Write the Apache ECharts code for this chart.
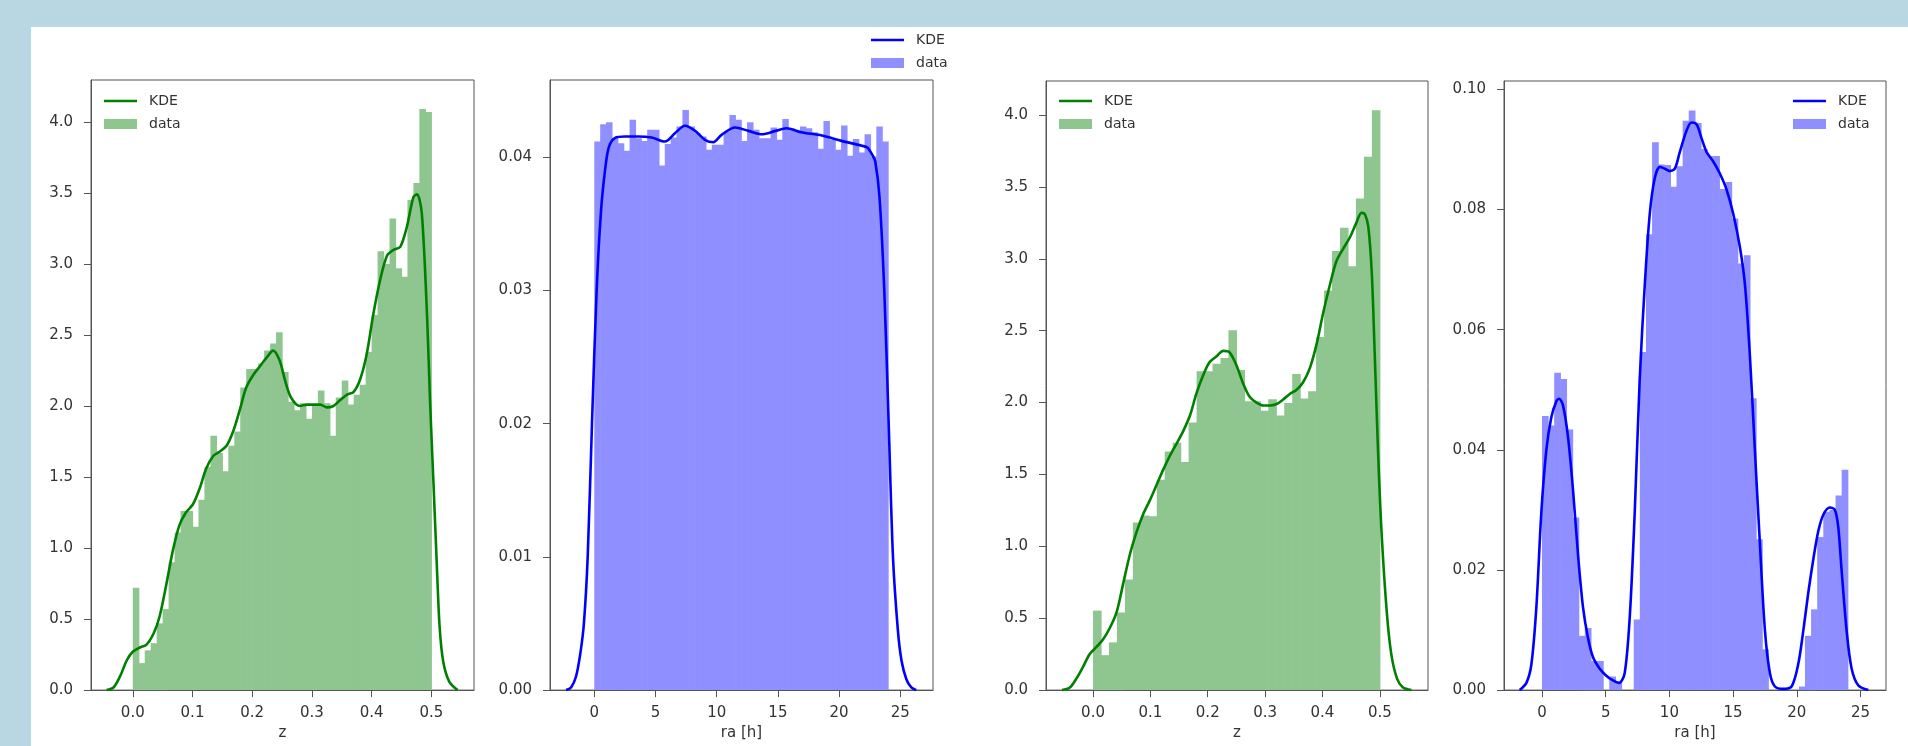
<!DOCTYPE html>
<html>
<head>
<meta charset="utf-8">
<title>z / ra distributions</title>
<script src="https://cdn.jsdelivr.net/npm/echarts@6/dist/echarts.min.js"></script>
<style>
    html, body { margin: 0; padding: 0; }
    #wrap { position: relative; width: 1908px; height: 746px; background: #b9d7e3; overflow: hidden; }
    #paper { position: absolute; left: 31px; top: 27px; right: 0; bottom: 0; background: #fff; }
    #chart { position: absolute; left: 0; top: 0; width: 1908px; height: 746px; }
</style>
</head>
<body>
<div id="wrap">
    <div id="paper"></div>
    <div id="chart"></div>
</div>
<script>
    // histogram ranges (first / last bin edge)
    var zRange = [0, 0.5];
    var raRange = [0, 24];

    // panel 1: z, 50 bins (density)
    var zHist1 = [0.72, 0.19, 0.28, 0.33, 0.47, 0.57, 0.90, 1.11, 1.26, 1.26,
                  1.15, 1.34, 1.57, 1.79, 1.67, 1.54, 1.72, 1.82, 2.13, 2.26,
                  2.26, 2.30, 2.39, 2.44, 2.52, 2.24, 2.03, 1.97, 2.02, 1.91,
                  2.01, 2.11, 2.02, 1.79, 2.06, 2.18, 2.01, 2.08, 2.15, 2.38,
                  2.64, 3.09, 3.00, 3.32, 2.97, 2.91, 3.45, 3.57, 4.09, 4.07];
    var zKde1 = [[-0.044, 0], [-0.032, 0.02], [-0.021, 0.10], [-0.010, 0.21], [0.0, 0.27],
                 [0.012, 0.30], [0.023, 0.32], [0.035, 0.40], [0.045, 0.52], [0.056, 0.74],
                 [0.067, 0.98], [0.078, 1.16], [0.089, 1.25], [0.101, 1.31], [0.112, 1.42],
                 [0.123, 1.56], [0.135, 1.65], [0.146, 1.68], [0.157, 1.72], [0.168, 1.82],
                 [0.179, 1.97], [0.190, 2.13], [0.202, 2.22], [0.213, 2.28], [0.224, 2.34],
                 [0.235, 2.39], [0.246, 2.32], [0.255, 2.18], [0.265, 2.06], [0.280, 2.00],
                 [0.292, 2.01], [0.303, 2.01], [0.314, 2.01], [0.325, 1.99], [0.336, 2.00],
                 [0.347, 2.04], [0.359, 2.08], [0.370, 2.10], [0.381, 2.19], [0.392, 2.37],
                 [0.403, 2.65], [0.415, 2.90], [0.426, 3.06], [0.437, 3.10], [0.448, 3.12],
                 [0.459, 3.26], [0.470, 3.47], [0.476, 3.49], [0.484, 3.36], [0.493, 2.62],
                 [0.498, 2.02], [0.504, 1.42], [0.5095, 0.85], [0.514, 0.44], [0.520, 0.20],
                 [0.530, 0.06], [0.544, 0]];

    // panel 2: ra [h], 50 bins
    var raHist1 = [0.04118, 0.04248, 0.04263, 0.04143, 0.04106, 0.04049, 0.04281, 0.04143, 0.04123, 0.04206,
                   0.04206, 0.03939, 0.04099, 0.04148, 0.04231, 0.04355, 0.04231, 0.04181, 0.04156, 0.04056,
                   0.04093, 0.04093, 0.04193, 0.04318, 0.04281, 0.04123, 0.04263, 0.04206, 0.04143, 0.04143,
                   0.04223, 0.04131, 0.04288, 0.04218, 0.04198, 0.04231, 0.04218, 0.04188, 0.04064, 0.04273,
                   0.04131, 0.04056, 0.04238, 0.04011, 0.04138, 0.04036, 0.04173, 0.04006, 0.04231, 0.04118];
    var raKde1 = [[-2.3, 0], [-1.9, 0.0002], [-1.5, 0.001], [-1.15, 0.0027], [-0.85, 0.005],
                  [-0.54, 0.010], [-0.19, 0.020], [0.19, 0.030], [0.55, 0.0360], [0.9, 0.0392],
                  [1.2, 0.0408], [1.7, 0.04146], [2.5, 0.04156], [3.59, 0.04156], [4.68, 0.04148],
                  [5.77, 0.04118], [6.59, 0.04181], [7.41, 0.04236], [8.24, 0.04198], [9.04, 0.04131],
                  [9.72, 0.04113], [10.4, 0.04168], [11.5, 0.04223], [12.6, 0.04198], [13.7, 0.04173],
                  [14.8, 0.04198], [15.7, 0.04218], [16.9, 0.04188], [18.6, 0.04163], [20.2, 0.04123],
                  [21.8, 0.04088], [22.3, 0.04073], [22.7, 0.0402], [22.95, 0.0397], [23.3, 0.0370],
                  [23.69, 0.030], [24.05, 0.020], [24.4, 0.010], [24.8, 0.0045], [25.1, 0.0022],
                  [25.5, 0.0008], [25.9, 0.0002], [26.3, 0]];

    // panel 3: z, 36 bins
    var zHist2 = [0.553, 0.243, 0.332, 0.540, 0.769, 1.166, 1.214, 1.209, 1.463, 1.659,
                  1.721, 1.587, 1.862, 2.218, 2.218, 2.270, 2.310, 2.504, 2.226, 2.010,
                  2.010, 1.943, 2.024, 1.911, 1.997, 2.199, 2.029, 2.078, 2.456, 2.779,
                  3.055, 3.216, 2.949, 3.419, 3.710, 4.034];
    var zKde2 = [[-0.054, 0], [-0.041, 0.016], [-0.029, 0.08], [-0.017, 0.165], [-0.006, 0.25],
                 [0.006, 0.30], [0.017, 0.35], [0.029, 0.43], [0.041, 0.54], [0.052, 0.73],
                 [0.064, 0.94], [0.076, 1.10], [0.087, 1.22], [0.099, 1.32], [0.110, 1.42],
                 [0.122, 1.53], [0.134, 1.63], [0.145, 1.71], [0.157, 1.80], [0.169, 1.91],
                 [0.180, 2.06], [0.192, 2.19], [0.203, 2.28], [0.215, 2.32], [0.227, 2.36],
                 [0.238, 2.35], [0.250, 2.26], [0.262, 2.13], [0.273, 2.04], [0.285, 2.00],
                 [0.297, 1.98], [0.308, 1.98], [0.320, 1.99], [0.331, 2.02], [0.343, 2.06],
                 [0.355, 2.09], [0.366, 2.14], [0.378, 2.24], [0.390, 2.41], [0.401, 2.62],
                 [0.413, 2.82], [0.424, 2.98], [0.436, 3.07], [0.448, 3.15], [0.459, 3.25],
                 [0.468, 3.32], [0.474, 3.31], [0.480, 3.22], [0.486, 2.90], [0.491, 2.35],
                 [0.497, 1.65], [0.503, 1.10], [0.512, 0.55], [0.520, 0.25], [0.530, 0.08],
                 [0.540, 0.02], [0.555, 0]];

    // panel 4: ra [h], 50 bins
    var raHist2 = [0.04565, 0.04404, 0.05282, 0.05179, 0.04339, 0.02873, 0.00904, 0.01033, 0.00484, 0.00484,
                   0, 0.00226, 0.0013, 0, 0, 0.01175, 0.0563, 0.07587, 0.0912, 0.0875,
                   0.0874, 0.0838, 0.0872, 0.0948, 0.0965, 0.0944, 0.0901, 0.0889, 0.0889, 0.0834,
                   0.0846, 0.0785, 0.0710, 0.0724, 0.0486, 0.0251, 0.0068, 0, 0, 0,
                   0, 0, 0.0006, 0.00904, 0.01344, 0.0255, 0.0297, 0.0300, 0.0324, 0.0367];
    var raKde2 = [[-1.75, 0], [-1.22, 0.0012], [-0.83, 0.0043], [-0.44, 0.0138], [-0.05, 0.0296],
                  [0.34, 0.0399], [0.73, 0.0454], [1.13, 0.0481], [1.35, 0.0485], [1.65, 0.0474],
                  [2.04, 0.0422], [2.43, 0.0335], [2.83, 0.0225], [3.22, 0.0138], [3.61, 0.0087],
                  [4.00, 0.0055], [4.52, 0.0036], [5.05, 0.0024], [5.57, 0.0016], [6.05, 0.0012],
                  [6.49, 0.0028], [6.89, 0.0122], [7.28, 0.0296], [7.67, 0.0517], [8.07, 0.0675],
                  [8.46, 0.0793], [8.85, 0.0852], [9.25, 0.0871], [9.64, 0.0868], [10.03, 0.0864],
                  [10.43, 0.0868], [10.82, 0.0896], [11.34, 0.0931], [11.73, 0.0945], [12.13, 0.0942],
                  [12.52, 0.0919], [12.91, 0.0896], [13.44, 0.0880], [13.96, 0.0860], [14.49, 0.0833],
                  [15.01, 0.0793], [15.53, 0.0738], [15.93, 0.0675], [16.32, 0.0556], [16.71, 0.0399],
                  [17.11, 0.0241], [17.50, 0.0099], [17.89, 0.0028], [18.28, 0.0006], [18.94, 0.0002],
                  [19.59, 0.0006], [20.11, 0.0043], [20.51, 0.0099], [20.90, 0.0162], [21.29, 0.0217],
                  [21.68, 0.0264], [22.08, 0.0292], [22.60, 0.0304], [22.99, 0.0300], [23.25, 0.0272],
                  [23.51, 0.0201], [23.91, 0.0099], [24.30, 0.0036], [24.82, 0.0008], [25.61, 0]];

    // tick labels
    var zTicks = [0, 0.1, 0.2, 0.3, 0.4, 0.5];
    var zDensTicks = [0, 0.5, 1.0, 1.5, 2.0, 2.5, 3.0, 3.5, 4.0];
    var raTicks = [0, 5, 10, 15, 20, 25];
    var raDensTicks1 = [0, 0.01, 0.02, 0.03, 0.04];
    var raDensTicks2 = [0, 0.02, 0.04, 0.06, 0.08, 0.10];

    var FONT = 'DejaVu Sans';
    var axisColor = '#555';
    var textColor = '#333';
    var green = '#008000', greenFill = '#8fc58f';
    var blue = '#0000ff', blueFill = '#8f8fff';
    var lineIcon = 'path://M0,0H33V2.5H0Z';

    // [x0, x1, height] rows for the custom bar series
    function binRows(range, heights) {
        var w = (range[1] - range[0]) / heights.length;
        return heights.map(function (h, i) {
            return [range[0] + i * w, range[0] + (i + 1) * w, h];
        });
    }

    function renderBin(params, api) {
        var p0 = api.coord([api.value(0), api.value(2)]);
        var p1 = api.coord([api.value(1), 0]);
        return {
            type: 'rect',
            shape: { x: p0[0], y: p0[1], width: p1[0] - p0[0] + 0.6, height: p1[1] - p0[1] },
            style: { fill: api.visual('color') }
        };
    }

    function fmt(d) {
        return function (v) { return v.toFixed(d); };
    }

    function xAxis(grid, min, max, ticks, f, name) {
        return {
            type: 'value', gridIndex: grid, min: min, max: max,
            name: name, nameLocation: 'middle', nameGap: 35,
            nameTextStyle: { color: textColor, fontSize: 15, fontFamily: FONT },
            axisLine: { show: true, onZero: false, lineStyle: { color: axisColor } },
            axisTick: { show: true, length: 7, customValues: ticks, lineStyle: { color: axisColor } },
            axisLabel: { customValues: ticks, formatter: f, margin: 16, color: textColor, fontSize: 15, fontFamily: FONT },
            splitLine: { show: false }
        };
    }

    function yAxis(grid, max, ticks, f) {
        return {
            type: 'value', gridIndex: grid, min: 0, max: max,
            axisLine: { show: true, onZero: false, lineStyle: { color: axisColor } },
            axisTick: { show: true, length: 7, customValues: ticks, lineStyle: { color: axisColor } },
            axisLabel: { customValues: ticks, formatter: f, margin: 18, color: textColor, fontSize: 15, fontFamily: FONT },
            splitLine: { show: false }
        };
    }

    function legend(n, color, fill, left, top) {
        return {
            orient: 'vertical', left: left, top: top, padding: 0, itemGap: 9,
            itemWidth: 33, itemHeight: 10, selectedMode: false,
            data: [
                { name: 'KDE' + n, icon: lineIcon, itemStyle: { color: color } },
                { name: 'data' + n, icon: 'rect', itemStyle: { color: fill } }
            ],
            formatter: function (name) { return name.replace(/\d+$/, ''); },
            textStyle: { color: textColor, fontSize: 14, fontFamily: FONT, padding: [0, 0, 0, 7] }
        };
    }

    function panelSeries(n, idx, rows, kde, line, fill) {
        return [{
            name: 'data' + n, type: 'custom', xAxisIndex: idx, yAxisIndex: idx,
            renderItem: renderBin, encode: { x: [0, 1], y: 2 },
            itemStyle: { color: fill }, data: rows, silent: true
        }, {
            name: 'KDE' + n, type: 'line', xAxisIndex: idx, yAxisIndex: idx,
            data: kde, symbol: 'none', smooth: 0.3, z: 3,
            lineStyle: { color: line, width: 2.6 }, itemStyle: { color: line }
        }];
    }

    var chart = echarts.init(document.getElementById('chart'));
    var gridStyle = { show: true, borderColor: axisColor, borderWidth: 1, backgroundColor: 'transparent' };

    var option = {
        animation: false,
        grid: [
            Object.assign({ left: 91, top: 80, width: 383, height: 612 }, gridStyle),
            Object.assign({ left: 550, top: 80, width: 383, height: 612 }, gridStyle),
            Object.assign({ left: 1046, top: 81, width: 382, height: 611 }, gridStyle),
            Object.assign({ left: 1504, top: 81, width: 382, height: 611 }, gridStyle)
        ],
        xAxis: [
            xAxis(0, -0.07, 0.5715, zTicks, fmt(1), 'z'),
            xAxis(1, -3.62, 27.67, raTicks, fmt(0), 'ra [h]'),
            xAxis(2, -0.082, 0.584, zTicks, fmt(1), 'z'),
            xAxis(3, -2.98, 27.0, raTicks, fmt(0), 'ra [h]')
        ],
        yAxis: [
            yAxis(0, 4.295, zDensTicks, fmt(1)),
            yAxis(1, 0.0458, raDensTicks1, fmt(2)),
            yAxis(2, 4.237, zDensTicks, fmt(1)),
            yAxis(3, 0.1014, raDensTicks2, fmt(2))
        ],
        legend: [
            legend(1, green, greenFill, 104, 94),
            legend(2, blue, blueFill, 871, 33),
            legend(3, green, greenFill, 1059, 94),
            legend(4, blue, blueFill, 1793, 94)
        ],
        series: [].concat(
            panelSeries(1, 0, binRows(zRange, zHist1), zKde1, green, greenFill),
            panelSeries(2, 1, binRows(raRange, raHist1), raKde1, blue, blueFill),
            panelSeries(3, 2, binRows(zRange, zHist2), zKde2, green, greenFill),
            panelSeries(4, 3, binRows(raRange, raHist2), raKde2, blue, blueFill)
        )
    };
    chart.setOption(option);
</script>
</body>
</html>
